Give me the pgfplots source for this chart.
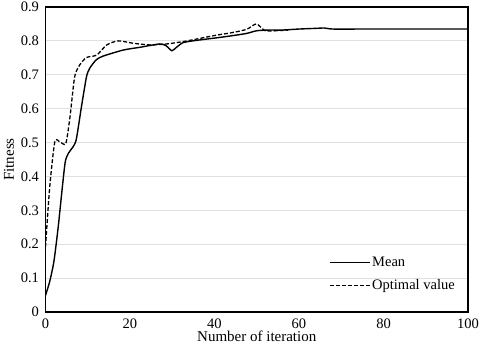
\documentclass[border=0pt]{standalone}
\usepackage{fontspec}
\setmainfont{Liberation Serif}
\usepackage{pgfplots}
\pgfplotsset{compat=1.18}

\begin{document}
\begin{tikzpicture}
  \useasboundingbox (-45.5pt,-42pt) rectangle (434.5pt,312pt);
  \begin{axis}[
      scale only axis,
      width=422.5pt, height=305pt,
      at={(0pt,0pt)}, anchor=south west,
      xmin=0, xmax=100, ymin=0, ymax=0.9,
      xtick={0,20,40,60,80,100},
      ytick={0,0.1,...,0.9},
      /pgf/number format/assume math mode=true,
      yticklabel style={/pgf/number format/fixed, /pgf/number format/precision=1},
      tick label style={font=\fontsize{14.5}{17}\selectfont},
      label style={font=\fontsize{15}{18}\selectfont},
      major tick length=0pt,
      ymajorgrids,
      grid style={draw=black!12, line width=0.9pt},
      axis line style={line width=1.1pt},
      xlabel={Number of iteration},
      ylabel={Fitness},
      xlabel style={yshift=4pt},
      ylabel style={yshift=0pt},
      xticklabel style={yshift=-3pt},
      yticklabel style={xshift=-3pt},
      legend style={at={(0.663,0.195)}, anchor=north west, draw=none, fill=none,
        font=\fontsize{14.5}{17}\selectfont, row sep=8pt},
      legend cell align=left,
      legend image code/.code={\draw[#1] (0pt,0pt) -- (40pt,0pt);},
    ]
    \addplot[black, line width=1.4pt, smooth, tension=0.4] coordinates {
      (0,0.049) (1,0.09) (2,0.15) (3,0.25) (4,0.37) (4.7,0.445) (5.5,0.47)
      (6.5,0.487) (7.3,0.51) (8.5,0.605) (9.7,0.694) (10.5,0.72) (12,0.744)
      (13.6,0.755) (18.4,0.773) (22.3,0.781) (27,0.791) (28.5,0.786) (29.9,0.771)
      (31,0.781) (32.6,0.795) (36,0.802) (40.5,0.809) (44,0.815) (47.6,0.822)
      (50,0.83) (53,0.832) (56,0.832) (60,0.835) (64,0.837) (66,0.838) (68,0.835)
      (75,0.835) (85,0.835) (100,0.835)};
    \addlegendentry{Mean}
    \addplot[black, line width=1.3pt, dash pattern=on 4pt off 2pt, smooth, tension=0.4] coordinates {
      (0,0.192) (1,0.369) (2.2,0.502) (3.4,0.502) (4.8,0.497) (5.8,0.576)
      (6.9,0.694) (8.1,0.729) (9.7,0.751) (12.1,0.758) (14.5,0.788) (17.2,0.8)
      (20.8,0.793) (24.8,0.788) (28.7,0.791) (32.6,0.798) (36,0.806) (40.5,0.817)
      (44,0.824) (47.6,0.834) (49.9,0.85) (52,0.83) (54.7,0.83) (57.5,0.832)};
    \addlegendentry{Optimal value}
  \end{axis}
\end{tikzpicture}
\end{document}
